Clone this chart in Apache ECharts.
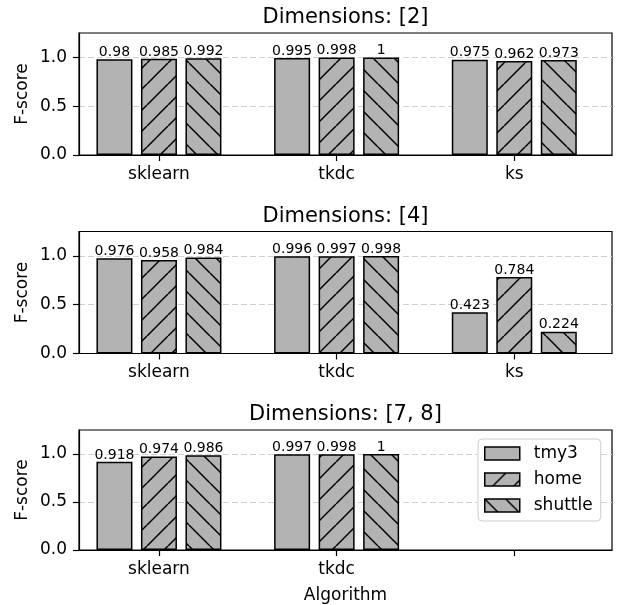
<!DOCTYPE html>
<html>
<head>
<meta charset="utf-8">
<script src="https://cdn.jsdelivr.net/npm/echarts@6/dist/echarts.min.js"></script>
<style>
html,body{margin:0;padding:0;background:#fff;}
#chart{width:622px;height:605px;}
</style>
</head>
<body>
<div id="chart"></div>
<script>
// ---- data ----
const seriesNames = ['tmy3', 'home', 'shuttle'];
const categories = ['sklearn', 'tkdc', 'ks'];
const categories3 = ['sklearn', 'tkdc', ''];
const panelTitles = ['Dimensions: [2]', 'Dimensions: [4]', 'Dimensions: [7, 8]'];
const yTicks = [0, 0.5, 1.0];

const dim2_tmy3 = [0.98, 0.995, 0.975];
const dim2_home = [0.985, 0.998, 0.962];
const dim2_shuttle = [0.992, 1, 0.973];

const dim4_tmy3 = [0.976, 0.996, 0.423];
const dim4_home = [0.958, 0.997, 0.784];
const dim4_shuttle = [0.984, 0.998, 0.224];

const dim78_tmy3 = [0.918, 0.997];
const dim78_home = [0.974, 0.998];
const dim78_shuttle = [0.986, 1];

// ---- styling ----
const FONT = 'DejaVu Sans';
const BAR_GRAY = '#b3b3b3';

function makeHatch(dir) {
  const s = 21;
  const c = document.createElement('canvas');
  c.width = s; c.height = s;
  const g = c.getContext('2d');
  g.fillStyle = BAR_GRAY;
  g.fillRect(0, 0, s, s);
  if (dir) {
    g.strokeStyle = '#000';
    g.lineWidth = 1.5;
    for (let k = -1; k <= 1; k++) {
      g.beginPath();
      if (dir === '/') {
        g.moveTo(k * s, s); g.lineTo(k * s + s, 0);
      } else {
        g.moveTo(k * s, 0); g.lineTo(k * s + s, s);
      }
      g.stroke();
    }
  }
  return c;
}
const fills = [BAR_GRAY, { image: makeHatch('/'), repeat: 'repeat' }, { image: makeHatch('\\'), repeat: 'repeat' }];

const panels = [
  { cats: categories, vals: [dim2_tmy3, dim2_home, dim2_shuttle] },
  { cats: categories, vals: [dim4_tmy3, dim4_home, dim4_shuttle] },
  { cats: categories3, vals: [dim78_tmy3, dim78_home, dim78_shuttle] }
];

const gridTops = [33, 231.5, 430];
const gridH = 122;
const grids = [], xAxes = [], yAxes = [], series = [], graphics = [];

panels.forEach((p, i) => {
  grids.push({ left: 79, right: 10, top: gridTops[i], height: gridH, show: true,
    borderColor: '#000', borderWidth: 1.2, backgroundColor: 'transparent' });
  xAxes.push({
    type: 'value', gridIndex: i, min: -0.45, max: 2.55,
    name: i === 2 ? 'Algorithm' : '', nameLocation: 'middle', nameGap: 37,
    nameTextStyle: { fontFamily: FONT, fontSize: 17, color: '#000' },
    axisLine: { show: true, onZero: false, lineStyle: { color: '#000', width: 1.2 } },
    axisTick: { show: true, length: 6, customValues: [0, 1, 2], lineStyle: { color: '#000', width: 1.2 } },
    axisLabel: { customValues: [0, 1, 2], margin: 11, fontFamily: FONT, fontSize: 17, color: '#000',
      formatter: v => p.cats[Math.round(v)] },
    splitLine: { show: false }
  });
  yAxes.push({
    type: 'value', gridIndex: i, min: 0, max: 1.25, interval: 0.5,
    name: 'F-score', nameLocation: 'middle', nameGap: 48, nameMoveOverlap: false,
    nameTextStyle: { fontFamily: FONT, fontSize: 17, color: '#000' },
    axisLine: { show: true, onZero: false, lineStyle: { color: '#000', width: 1.2 } },
    axisTick: { show: true, length: 6, customValues: yTicks, lineStyle: { color: '#000', width: 1.2 } },
    axisLabel: { customValues: yTicks, margin: 12, fontFamily: FONT, fontSize: 17, color: '#000',
      formatter: v => v.toFixed(1) },
    splitLine: { show: true, lineStyle: { color: '#d0d0d0', width: 1, type: [6, 3] } }
  });
  graphics.push({ type: 'text', x: 345.5, y: gridTops[i] - 15,
    style: { text: panelTitles[i], textAlign: 'center', textVerticalAlign: 'middle',
      font: '21px "DejaVu Sans"', fill: '#000' } });
  seriesNames.forEach((nm, j) => {
    series.push({
      type: 'bar', name: nm, xAxisIndex: i, yAxisIndex: i,
      barWidth: 36, barGap: '23.6%',
      data: p.vals[j].map((v, k) => [k, v]),
      itemStyle: { color: fills[j], borderColor: '#000', borderWidth: 1.5 },
      label: { show: true, position: 'top', distance: 0, fontFamily: FONT, fontSize: 14, color: '#000',
        formatter: q => String(q.value[1]) },
      emphasis: { disabled: true },
      animation: false
    });
  });
});

const chart = echarts.init(document.getElementById('chart'), null, { renderer: 'canvas' });
chart.setOption({
  animation: false,
  grid: grids, xAxis: xAxes, yAxis: yAxes, series: series,
  graphic: graphics,
  legend: {
    data: seriesNames, orient: 'vertical', left: 478, top: 439,
    icon: 'rect', itemWidth: 35, itemHeight: 13, itemGap: 9,
    padding: [6, 8, 7, 6],
    backgroundColor: '#fff', borderColor: '#cccccc', borderWidth: 1, borderRadius: 4,
    textStyle: { fontFamily: FONT, fontSize: 17, color: '#000', padding: [0, 0, 0, 9] },
    itemStyle: { borderColor: '#000', borderWidth: 1.5 },
    selectedMode: false
  }
});
</script>
</body>
</html>
